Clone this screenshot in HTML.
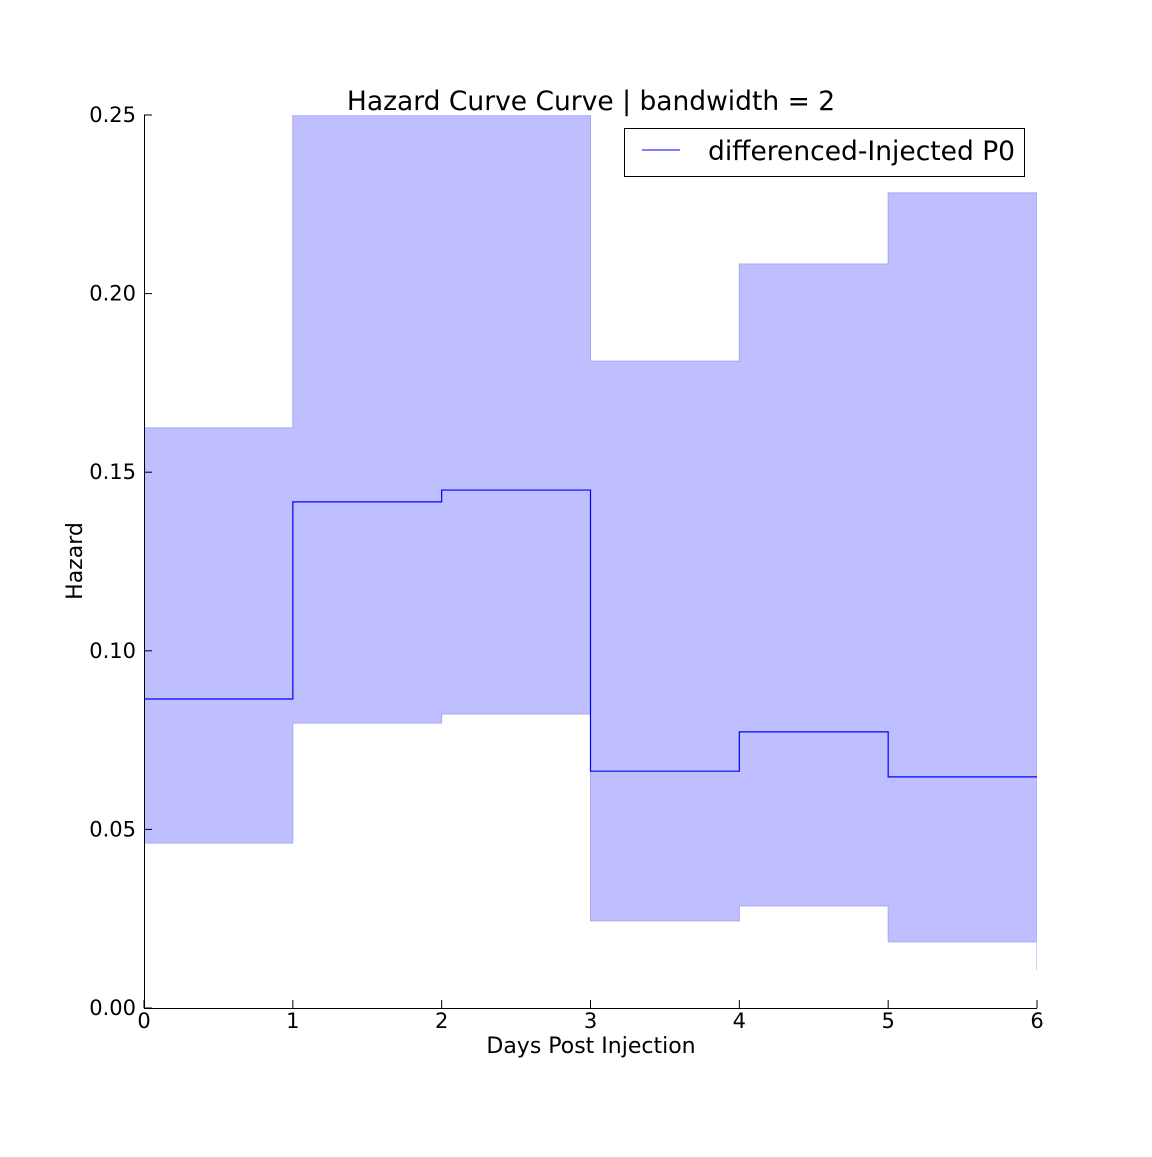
<!DOCTYPE html>
<html><head><meta charset="utf-8"><style>
body{margin:0;background:#fff}
svg text{font-family:"DejaVu Sans","Liberation Sans",sans-serif;fill:#000}
</style></head><body>
<svg id="chart" width="1152" height="1152" xmlns="http://www.w3.org/2000/svg">
<defs><clipPath id="clip"><rect x="144" y="115" width="893" height="893"/></clipPath></defs>
<g id="band" clip-path="url(#clip)"></g>
<g id="line" clip-path="url(#clip)"></g>
<g id="axes"></g>
<text x="591" y="110" font-size="26.5" text-anchor="middle">Hazard Curve Curve | bandwidth = 2</text>
<text x="591" y="1053" font-size="22" text-anchor="middle">Days Post Injection</text>
<text transform="translate(82,561) rotate(-90)" font-size="22" text-anchor="middle">Hazard</text>
<g>
<rect x="624.5" y="128.5" width="400" height="48" fill="#fff" stroke="#000" stroke-width="1"/>
<line x1="642" y1="150" x2="680" y2="150" stroke="#0000ff" stroke-width="1"/>
<text x="708" y="160" font-size="26.5">differenced-Injected P0</text>
</g>
</svg>
<script>
const days=[0,1,2,3,4,5,6];
const hazard=[0.0865,0.1417,0.145,0.0663,0.0773,0.0647,0.0647];
const upper=[0.1624,0.28,0.28,0.1811,0.2083,0.2282,0.168];
const lower=[0.0462,0.0798,0.0823,0.0244,0.0286,0.0185,0.0105];
const xTicks=[0,1,2,3,4,5,6];
const yTicks=[0,0.05,0.10,0.15,0.20,0.25];
const yTickLabels=["0.00","0.05","0.10","0.15","0.20","0.25"];
const X=v=>144+v*(1037-144)/6;
const Y=v=>1008-v*(1008-115)/0.25;
const NS="http://www.w3.org/2000/svg";
function mk(t,a,p){const e=document.createElementNS(NS,t);for(const k in a)e.setAttribute(k,a[k]);p.appendChild(e);return e;}
function stepPts(arr){const n=days.length;let pts=[];for(let i=0;i<n-1;i++){pts.push([X(days[i]),Y(arr[i])]);pts.push([X(days[i+1]),Y(arr[i])]);}return pts;}
const up=stepPts(upper), lo=stepPts(lower);
up.push([X(days[6]),Y(upper[6])]); lo.push([X(days[6]),Y(lower[6])]);
let d="M"+up.map(p=>p.join(",")).join("L")+"L"+lo.slice().reverse().map(p=>p.join(",")).join("L")+"Z";
const band=mk("path",{d:d,fill:"#bfbfff",stroke:"#a8a8f0","stroke-width":1},document.getElementById("band"));


const hp=stepPts(hazard);
const hl=mk("path",{d:"M"+hp.map(p=>p.join(",")).join("L"),fill:"none",stroke:"#0000ff","stroke-width":1.2},document.getElementById("line"));


const ax=document.getElementById("axes");
const sl=mk("line",{x1:144.5,y1:115,x2:144.5,y2:1008,stroke:"#000"},ax);


const sb=mk("line",{x1:144,y1:1008.5,x2:1037,y2:1008.5,stroke:"#000"},ax);


xTicks.forEach(v=>{
 const t=mk("line",{x1:X(v),y1:1008,x2:X(v),y2:1000,stroke:"#000"},ax);
 
 
 const l=mk("text",{x:X(v),y:1028,"font-size":21,"text-anchor":"middle"},ax);l.textContent=v;
 
 
});
yTicks.forEach((v,i)=>{
 const t=mk("line",{x1:144,y1:Y(v),x2:152,y2:Y(v),stroke:"#000"},ax);
 
 
 const l=mk("text",{x:136,y:Y(v)+7,"font-size":21,"text-anchor":"end"},ax);l.textContent=yTickLabels[i];
 
 
});
</script>
</body></html>
